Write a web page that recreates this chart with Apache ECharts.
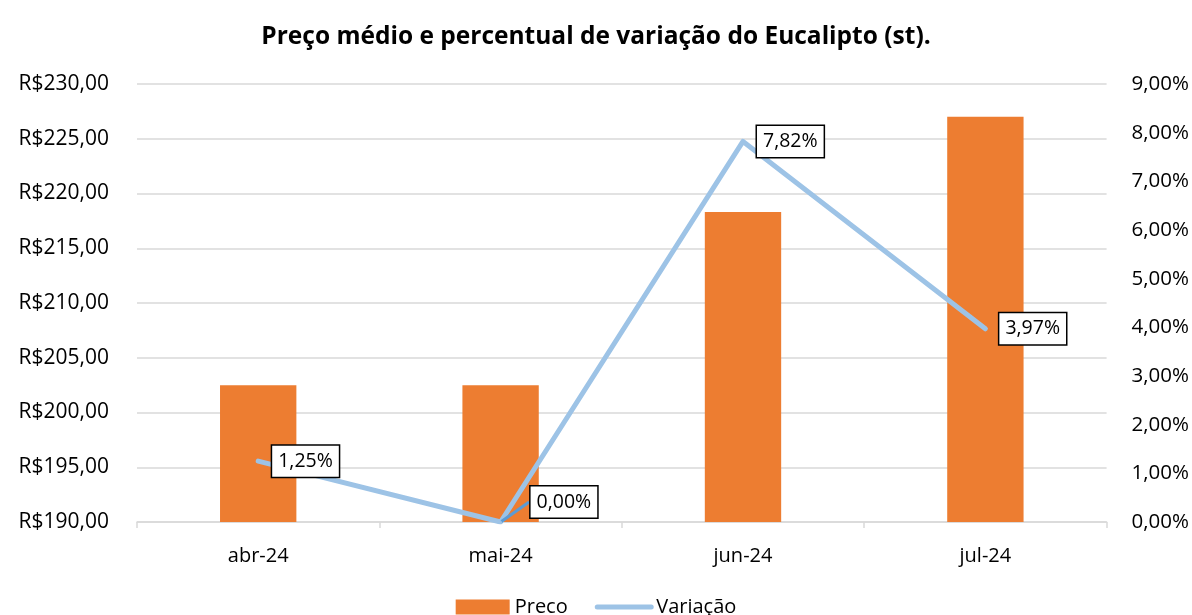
<!DOCTYPE html>
<html>
<head>
<meta charset="utf-8">
<script src="https://cdn.jsdelivr.net/npm/echarts@6/dist/echarts.min.js"></script>
<style>
  html, body { margin: 0; padding: 0; background: #fff; }
  #chart { width: 1192px; height: 615px; }
</style>
</head>
<body>
<div id="chart"></div>
<script>
  // dados
  var meses = ['abr-24', 'mai-24', 'jun-24', 'jul-24']
  var preco = [202.5, 202.5, 218.3, 227.0]
  var variacao = [0.0125, 0.0, 0.0782, 0.0397]

  var fonte = '"Open Sans", Lato, sans-serif'

  function moeda(v) {
    return 'R$' + v.toFixed(2).replace('.', ',')
  }
  function pct(v) {
    return (v * 100).toFixed(2).replace('.', ',') + '%'
  }

  var dadosLinha = variacao.map(function (v) {
    var item = { value: v }
    if (v === 0) {
      item.labelLine = { show: true }
    }
    return item
  })

  var chart = echarts.init(document.getElementById('chart'))
  var option = {
    animation: false,
    textStyle: { fontFamily: fonte },
    title: {
      text: 'Preço médio e percentual de variação do Eucalipto (st).',
      left: 'center',
      top: 20,
      textStyle: { fontFamily: fonte, fontSize: 24.5, fontWeight: 'bold', color: '#000' }
    },
    grid: { left: 137, right: 84, top: 84, bottom: 93 },
    legend: {
      bottom: -7,
      left: 'center',
      itemGap: 27,
      itemWidth: 54,
      itemHeight: 15,
      textStyle: { fontFamily: fonte, fontSize: 20, color: '#000' },
      data: [
        { name: 'Preco', icon: 'rect' },
        { name: 'Variação', itemStyle: { opacity: 0 }, lineStyle: { width: 5, cap: 'round' } }
      ]
    },
    xAxis: {
      type: 'category',
      data: meses,
      axisLine: { lineStyle: { color: '#d9d9d9', width: 1.5 } },
      axisTick: { show: true, length: 6, lineStyle: { color: '#d9d9d9', width: 1.5 } },
      axisLabel: { color: '#000', fontSize: 20, margin: 24, fontFamily: fonte }
    },
    yAxis: [
      {
        type: 'value',
        min: 190,
        max: 230,
        interval: 5,
        axisLine: { show: false },
        axisTick: { show: false },
        splitLine: { lineStyle: { color: '#d9d9d9', width: 1.5 } },
        axisLabel: { color: '#000', fontSize: 21, margin: 28, fontFamily: fonte, formatter: moeda }
      },
      {
        type: 'value',
        min: 0,
        max: 0.09,
        interval: 0.01,
        axisLine: { show: false },
        axisTick: { show: false },
        splitLine: { show: false },
        axisLabel: { color: '#000', fontSize: 20.5, margin: 25, fontFamily: fonte, formatter: pct }
      }
    ],
    series: [
      {
        name: 'Preco',
        type: 'bar',
        yAxisIndex: 0,
        barWidth: '31.5%',
        itemStyle: { color: '#ED7D31' },
        data: preco
      },
      {
        name: 'Variação',
        type: 'line',
        yAxisIndex: 1,
        symbol: 'circle',
        symbolSize: 2,
        itemStyle: { color: '#9DC3E6' },
        lineStyle: { color: '#9DC3E6', width: 5, cap: 'round', join: 'round' },
        labelLine: { lineStyle: { color: '#5B9BD5', width: 3 } },
        labelLayout: function (p) {
          if (p.dataIndex === 1) return { dx: 16, dy: -20 }
        },
        label: {
          show: true,
          position: 'right',
          distance: 13,
          formatter: function (p) { return pct(p.value) },
          color: '#000',
          fontSize: 19.5,
          fontFamily: fonte,
          backgroundColor: '#fff',
          borderColor: '#000',
          borderWidth: 1.5,
          padding: [6, 6, 5, 6]
        },
        data: dadosLinha
      }
    ]
  }
  chart.setOption(option)
</script>
</body>
</html>
